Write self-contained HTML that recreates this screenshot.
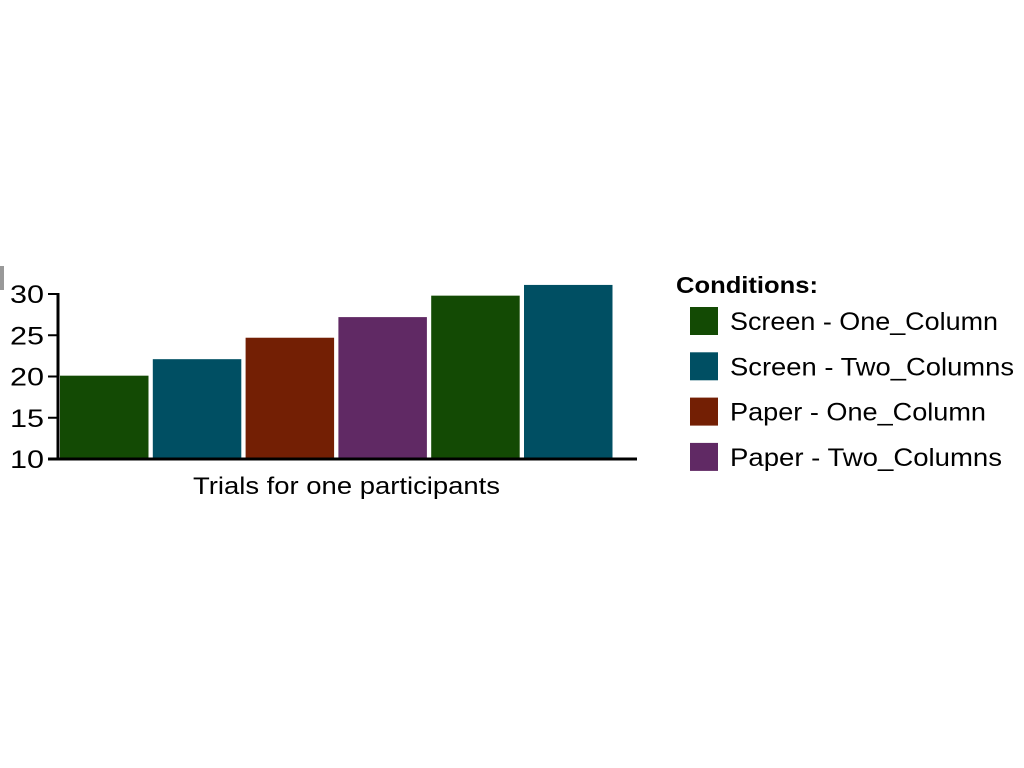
<!DOCTYPE html>
<html><head><meta charset="utf-8"><style>
html,body{margin:0;padding:0;background:#fff;}
svg{display:block;font-family:"Liberation Sans",sans-serif;}
</style></head><body>
<svg id="c" width="1024" height="768">
<rect x="0" y="266" width="4" height="24" fill="#999"/>
<g id="plot"></g>
<text x="193" y="494" font-size="24" textLength="307" lengthAdjust="spacingAndGlyphs" fill="#000">Trials for one participants</text>
<text x="676" y="293" font-size="23" font-weight="bold" textLength="142" lengthAdjust="spacingAndGlyphs" fill="#000">Conditions:</text>
<g id="legend"></g>
</svg>
<script>
const categories=["Screen - One_Column","Screen - Two_Columns","Paper - One_Column","Paper - Two_Columns","Screen - One_Column","Screen - Two_Columns"];
const values=[20.1,22.1,24.7,27.2,29.8,31.1];
const colors=["#134a04","#004f63","#731f04","#602964","#134a04","#004f63"];
const yTicks=[10,15,20,25,30];
const legendLabels=["Screen - One_Column","Screen - Two_Columns","Paper - One_Column","Paper - Two_Columns"];
const legendColors=["#134a04","#004f63","#731f04","#602964"];
const legendWidths=[268,284,256,272];
const NS="http://www.w3.org/2000/svg";
const y0=459,y30=294,ymin=10,ymax=30;
function y(v){return y0-(v-ymin)/(ymax-ymin)*(y0-y30);}
function x(i){return 60+i*92.8;}
const bw=88.5;
const plot=document.getElementById('plot');
function mk(t,a){const e=document.createElementNS(NS,t);for(const k in a)e.setAttribute(k,a[k]);return e;}
values.forEach((v,i)=>{
 const r=mk('rect',{x:x(i),y:y(v),width:bw,height:y0-y(v),fill:colors[i]});
 
 
 plot.appendChild(r);
});
const ya=mk('line',{x1:58,y1:y(30)-1,x2:58,y2:y0+1,stroke:'#000','stroke-width':3});


plot.appendChild(ya);
const xa=mk('line',{x1:48,y1:y0,x2:637,y2:y0,stroke:'#000','stroke-width':3});


plot.appendChild(xa);
yTicks.forEach(t=>{
 const l=mk('line',{x1:48,y1:y(t),x2:58,y2:y(t),stroke:'#000','stroke-width':2});
 
 
 plot.appendChild(l);
 const tx=mk('text',{x:10,y:y(t)+9,'font-size':25,textLength:34,lengthAdjust:'spacingAndGlyphs',fill:'#000'});
 tx.textContent=t;
 
 
 plot.appendChild(tx);
});
const lg=document.getElementById('legend');
legendLabels.forEach((s,i)=>{
 const r=mk('rect',{x:690,y:307+i*45.3,width:28,height:28,fill:legendColors[i]});
 
 
 lg.appendChild(r);
 const t=mk('text',{x:730,y:330+i*45.3,'font-size':25,textLength:legendWidths[i],lengthAdjust:'spacingAndGlyphs',fill:'#000'});
 t.textContent=s;
 
 
 lg.appendChild(t);
});
</script>
</body></html>
